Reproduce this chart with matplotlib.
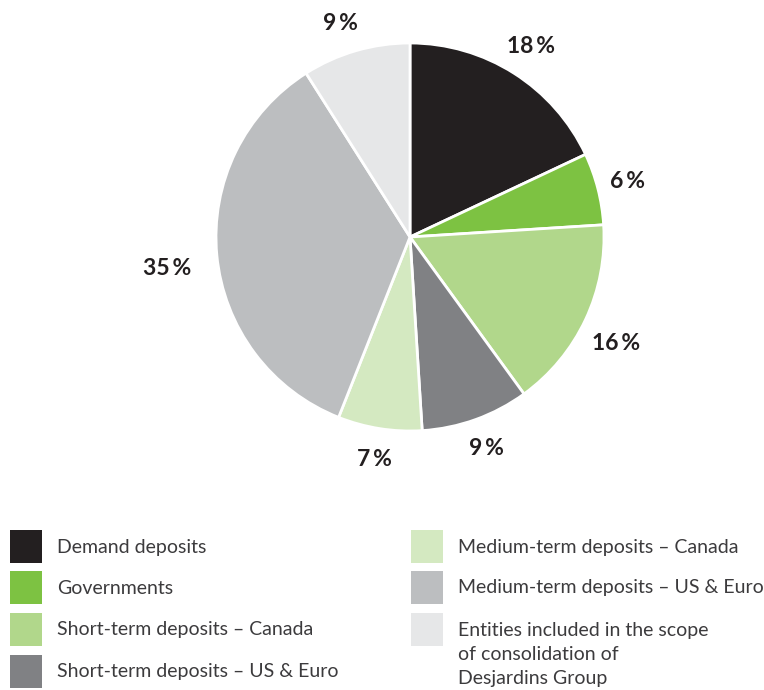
import matplotlib.pyplot as plt
from matplotlib.patches import Rectangle

# deposit breakdown, clockwise from 12 o'clock
categories = [
    "Demand deposits",
    "Governments",
    "Short-term deposits \u2013 Canada",
    "Short-term deposits \u2013 US & Euro",
    "Medium-term deposits \u2013 Canada",
    "Medium-term deposits \u2013 US & Euro",
    "Entities included in the scope\nof consolidation of\nDesjardins Group",
]
shares = [18, 6, 16, 9, 7, 35, 9]
colors = ["#231f20", "#7dc242", "#b1d78b", "#808184", "#d4e9c1", "#bcbec0", "#e6e7e8"]

plt.rcParams['font.family'] = ['Lato', 'DejaVu Sans']

W, H = 764, 690
fig = plt.figure(figsize=(W / 100, H / 100), dpi=100)

# pie centred at (410, 237) px, radius 194 px
cx, cy, r = 410, 237, 194
ax = fig.add_axes([(cx - r) / W, (H - cy - r) / H, 2 * r / W, 2 * r / H])
wedges, texts, autotexts = ax.pie(
    shares, colors=colors, startangle=90, counterclock=False,
    wedgeprops=dict(edgecolor="white", linewidth=2),
    autopct=lambda p: f"{p:.0f}\u2009%", pctdistance=1.16,
)
for t in autotexts:
    t.set_fontsize(16.5)
    t.set_fontweight("bold")
    t.set_color("#231f20")
# nudge a few labels
autotexts[2].set_position((1.06, -0.55))
autotexts[5].set_position((-1.25, -0.16))
autotexts[6].set_position((-0.36, 1.10))
ax.set_xlim(-1, 1)
ax.set_ylim(-1, 1)
ax.set_aspect("equal")
ax.axis("off")

# legend: two columns of swatches
lg = fig.add_axes([0, 0, 1, 1])
lg.set_xlim(0, W)
lg.set_ylim(H, 0)
lg.axis("off")
rows = [546, 587, 629, 671]
for i, (lab, col) in enumerate(zip(categories, colors)):
    colx = 10 if i < 4 else 411
    y = rows[i] if i < 4 else rows[i - 4]
    lg.add_patch(Rectangle((colx, y - 16), 32, 33, color=col, lw=0))
    if "\n" in lab:
        lg.text(colx + 47, y - 7, lab, fontsize=14, color="#3c3b3d",
                va="top", ha="left", linespacing=1.5)
    else:
        lg.text(colx + 47, y + 1, lab, fontsize=14, color="#3c3b3d",
                va="center", ha="left")

fig.savefig("out.png", dpi=100)
